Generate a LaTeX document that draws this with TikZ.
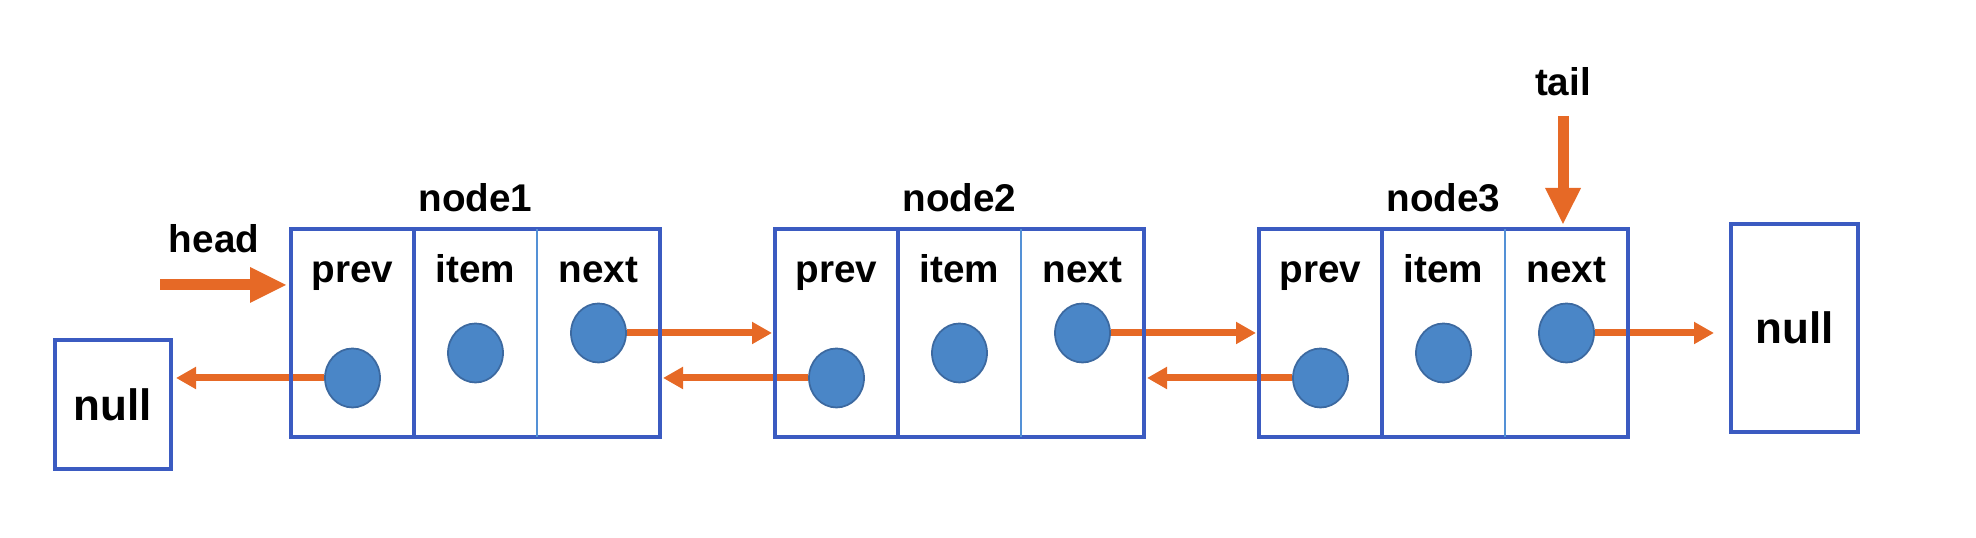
\documentclass[tikz,border=0pt]{standalone}
\usepackage{fontspec}
\setmainfont{Liberation Sans}
\usetikzlibrary{shapes.geometric, arrows.meta, positioning}
\definecolor{boxblue}{RGB}{59,91,193}
\definecolor{divblue}{RGB}{84,145,214}
\definecolor{dotblue}{RGB}{74,134,199}
\definecolor{dotedge}{RGB}{60,105,160}
\definecolor{ptrorange}{RGB}{230,105,38}
\tikzstyle{listcell} = [rectangle, minimum width=1.23cm, minimum height=2.08cm, inner sep=0pt, outer sep=0pt]
\tikzstyle{celltext} = [anchor=center, yshift=-0.43cm, text height=1.6ex, text depth=0.45ex, font=\bfseries\fontsize{11}{13}\selectfont]
\tikzstyle{nodetitle} = [yshift=0.05cm, font=\bfseries\fontsize{11}{13}\selectfont]
\tikzstyle{ptrtext} = [font=\bfseries\fontsize{11}{13}\selectfont]
\tikzstyle{ptrdot} = [ellipse, minimum width=0.55cm, minimum height=0.59cm, inner sep=0pt, fill=dotblue, draw=dotedge, line width=0.5pt]
\tikzstyle{nullbox} = [rectangle, draw=boxblue, line width=1.2pt, font=\bfseries\fontsize{12.5}{15}\selectfont]
\tikzstyle{listframe} = [draw=boxblue, line width=1.2pt]
\tikzstyle{divider} = [draw=divblue, line width=0.8pt]
\tikzstyle{ptr} = [line width=2pt, draw=ptrorange, shorten >=0.03cm, -{Triangle[length=0.2cm, width=0.21cm]}]
\tikzstyle{bigptr} = [line width=0.11cm, draw=ptrorange, shorten >=0.04cm, -{Triangle[length=0.37cm, width=0.33cm]}]

\begin{document}
\begin{tikzpicture}
  \useasboundingbox (0,0) rectangle (19.76,5.38);
  % Draw list nodes
  \node (n1p)[listcell, label={[celltext]north:prev}] at (3.525,2.05) {};
  \node (n1i)[listcell, right=0cm of n1p, label={[celltext]north:item},
              label={[nodetitle]above:node1}] {};
  \node (n1n)[listcell, right=0cm of n1i, label={[celltext]north:next}] {};
  \node (n2p)[listcell, right=1.15cm of n1n, label={[celltext]north:prev}] {};
  \node (n2i)[listcell, right=0cm of n2p, label={[celltext]north:item},
              label={[nodetitle]above:node2}] {};
  \node (n2n)[listcell, right=0cm of n2i, label={[celltext]north:next}] {};
  \node (n3p)[listcell, right=1.15cm of n2n, label={[celltext]north:prev}] {};
  \node (n3i)[listcell, right=0cm of n3p, label={[celltext]north:item},
              label={[nodetitle]above:node3}] {};
  \node (n3n)[listcell, right=0cm of n3i, label={[celltext]north:next}] {};
  % Draw dots
  \node (d1p)[ptrdot, yshift=-0.45cm] at (n1p) {};
  \node (d1i)[ptrdot, yshift=-0.20cm] at (n1i) {};
  \node (d1n)[ptrdot] at (n1n) {};
  \node (d2p)[ptrdot, yshift=-0.45cm] at (n2p) {};
  \node (d2i)[ptrdot, yshift=-0.20cm] at (n2i) {};
  \node (d2n)[ptrdot] at (n2n) {};
  \node (d3p)[ptrdot, yshift=-0.45cm] at (n3p) {};
  \node (d3i)[ptrdot, yshift=-0.20cm] at (n3i) {};
  \node (d3n)[ptrdot] at (n3n) {};
  % Draw null nodes
  \node (null1)[nullbox, minimum width=1.16cm, minimum height=1.29cm,
                left=1.18cm of n1p, yshift=-0.715cm] {null};
  \node (null2)[nullbox, minimum width=1.27cm, minimum height=2.08cm,
                right=1.01cm of n3n, yshift=0.05cm] {null};
  % Draw arrows
  \draw [ptr] (d1p) -- (d1p -| null1.east);
  \draw [ptr] (d1n) -- (d1n -| n2p.west);
  \draw [ptr] (d2p) -- (d2p -| n1n.east);
  \draw [ptr] (d2n) -- (d2n -| n3p.west);
  \draw [ptr] (d3p) -- (d3p -| n2n.east);
  \draw [ptr, shorten >=0.15cm] (d3n) -- (d3n -| null2.west);
  % Draw frames
  \draw [listframe] (n1p.north west) rectangle (n1n.south east);
  \draw [listframe] (n1p.north east) -- (n1p.south east);
  \draw [divider] (n1i.north east) -- (n1i.south east);
  \draw [listframe] (n2p.north west) rectangle (n2n.south east);
  \draw [listframe] (n2p.north east) -- (n2p.south east);
  \draw [divider] (n2i.north east) -- (n2i.south east);
  \draw [listframe] (n3p.north west) rectangle (n3n.south east);
  \draw [listframe] (n3p.north east) -- (n3p.south east);
  \draw [divider] (n3i.north east) -- (n3i.south east);
  % Draw head and tail
  \node (headtext)[ptrtext] at (2.14,2.99) {head};
  \coordinate (headstart) at (1.60,2.53);
  \draw [bigptr] (headstart) -- (headstart -| n1p.west);
  \node (tailtext)[ptrtext] at (15.63,4.56) {tail};
  \coordinate (tailstart) at (15.63,4.22);
  \draw [bigptr] (tailstart) -- (tailstart |- n3n.north);
\end{tikzpicture}
\end{document}
